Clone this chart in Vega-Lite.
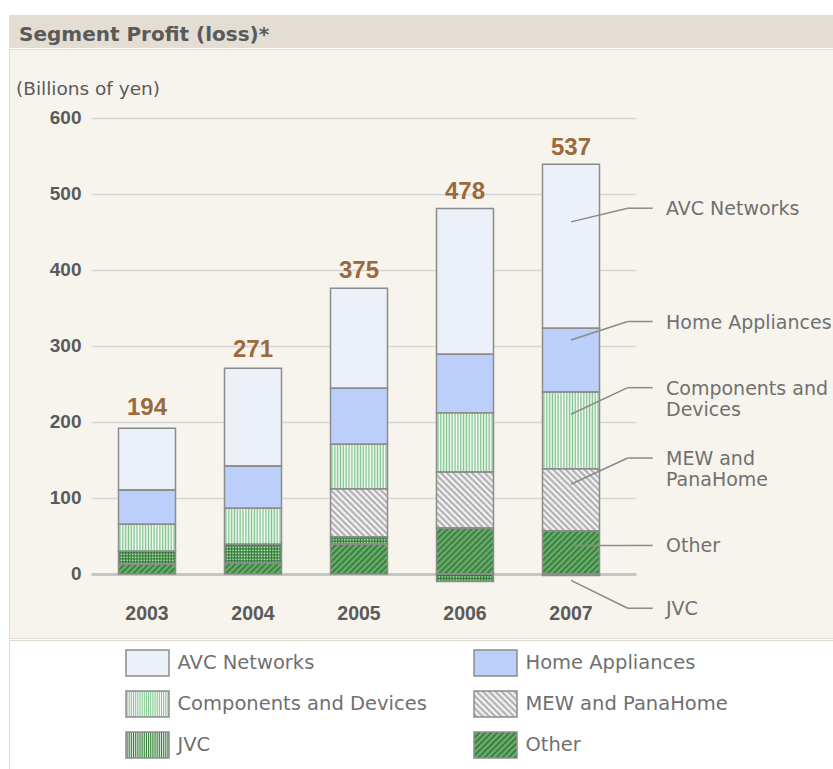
{
  "$schema": "https://vega.github.io/schema/vega-lite/v6.json",
  "background": "#ffffff",
  "padding": {"left": 8, "top": 15, "right": 0, "bottom": 0},
  "spacing": 0,
  "config": {"view": {"stroke": null}},
  "params": [
    {"name": "cdStops", "value": [{"offset":0,"color":"#ffffff"},{"offset":0.025,"color":"#7fc48b"},{"offset":0.05,"color":"#ffffff"},{"offset":0.075,"color":"#7fc48b"},{"offset":0.1,"color":"#ffffff"},{"offset":0.125,"color":"#7fc48b"},{"offset":0.15,"color":"#ffffff"},{"offset":0.175,"color":"#7fc48b"},{"offset":0.2,"color":"#ffffff"},{"offset":0.225,"color":"#7fc48b"},{"offset":0.25,"color":"#ffffff"},{"offset":0.275,"color":"#7fc48b"},{"offset":0.3,"color":"#ffffff"},{"offset":0.325,"color":"#7fc48b"},{"offset":0.35,"color":"#ffffff"},{"offset":0.375,"color":"#7fc48b"},{"offset":0.4,"color":"#ffffff"},{"offset":0.425,"color":"#7fc48b"},{"offset":0.45,"color":"#ffffff"},{"offset":0.475,"color":"#7fc48b"},{"offset":0.5,"color":"#ffffff"},{"offset":0.525,"color":"#7fc48b"},{"offset":0.55,"color":"#ffffff"},{"offset":0.575,"color":"#7fc48b"},{"offset":0.6,"color":"#ffffff"},{"offset":0.625,"color":"#7fc48b"},{"offset":0.65,"color":"#ffffff"},{"offset":0.675,"color":"#7fc48b"},{"offset":0.7,"color":"#ffffff"},{"offset":0.725,"color":"#7fc48b"},{"offset":0.75,"color":"#ffffff"},{"offset":0.775,"color":"#7fc48b"},{"offset":0.8,"color":"#ffffff"},{"offset":0.825,"color":"#7fc48b"},{"offset":0.85,"color":"#ffffff"},{"offset":0.875,"color":"#7fc48b"},{"offset":0.9,"color":"#ffffff"},{"offset":0.925,"color":"#7fc48b"},{"offset":0.95,"color":"#ffffff"},{"offset":0.975,"color":"#7fc48b"},{"offset":1,"color":"#ffffff"}]},
    {"name": "jvcStops", "value": [{"offset":0,"color":"#e6f2e6"},{"offset":0.025,"color":"#2e7d32"},{"offset":0.05,"color":"#e6f2e6"},{"offset":0.075,"color":"#2e7d32"},{"offset":0.1,"color":"#e6f2e6"},{"offset":0.125,"color":"#2e7d32"},{"offset":0.15,"color":"#e6f2e6"},{"offset":0.175,"color":"#2e7d32"},{"offset":0.2,"color":"#e6f2e6"},{"offset":0.225,"color":"#2e7d32"},{"offset":0.25,"color":"#e6f2e6"},{"offset":0.275,"color":"#2e7d32"},{"offset":0.3,"color":"#e6f2e6"},{"offset":0.325,"color":"#2e7d32"},{"offset":0.35,"color":"#e6f2e6"},{"offset":0.375,"color":"#2e7d32"},{"offset":0.4,"color":"#e6f2e6"},{"offset":0.425,"color":"#2e7d32"},{"offset":0.45,"color":"#e6f2e6"},{"offset":0.475,"color":"#2e7d32"},{"offset":0.5,"color":"#e6f2e6"},{"offset":0.525,"color":"#2e7d32"},{"offset":0.55,"color":"#e6f2e6"},{"offset":0.575,"color":"#2e7d32"},{"offset":0.6,"color":"#e6f2e6"},{"offset":0.625,"color":"#2e7d32"},{"offset":0.65,"color":"#e6f2e6"},{"offset":0.675,"color":"#2e7d32"},{"offset":0.7,"color":"#e6f2e6"},{"offset":0.725,"color":"#2e7d32"},{"offset":0.75,"color":"#e6f2e6"},{"offset":0.775,"color":"#2e7d32"},{"offset":0.8,"color":"#e6f2e6"},{"offset":0.825,"color":"#2e7d32"},{"offset":0.85,"color":"#e6f2e6"},{"offset":0.875,"color":"#2e7d32"},{"offset":0.9,"color":"#e6f2e6"},{"offset":0.925,"color":"#2e7d32"},{"offset":0.95,"color":"#e6f2e6"},{"offset":0.975,"color":"#2e7d32"},{"offset":1,"color":"#e6f2e6"}]},
    {"name": "jvcHStops", "value": [{"offset":0,"color":"rgba(46,125,50,0)"},{"offset":0.025,"color":"#2e7d32"},{"offset":0.05,"color":"rgba(46,125,50,0)"},{"offset":0.075,"color":"#2e7d32"},{"offset":0.1,"color":"rgba(46,125,50,0)"},{"offset":0.125,"color":"#2e7d32"},{"offset":0.15,"color":"rgba(46,125,50,0)"},{"offset":0.175,"color":"#2e7d32"},{"offset":0.2,"color":"rgba(46,125,50,0)"},{"offset":0.225,"color":"#2e7d32"},{"offset":0.25,"color":"rgba(46,125,50,0)"},{"offset":0.275,"color":"#2e7d32"},{"offset":0.3,"color":"rgba(46,125,50,0)"},{"offset":0.325,"color":"#2e7d32"},{"offset":0.35,"color":"rgba(46,125,50,0)"},{"offset":0.375,"color":"#2e7d32"},{"offset":0.4,"color":"rgba(46,125,50,0)"},{"offset":0.425,"color":"#2e7d32"},{"offset":0.45,"color":"rgba(46,125,50,0)"},{"offset":0.475,"color":"#2e7d32"},{"offset":0.5,"color":"rgba(46,125,50,0)"},{"offset":0.525,"color":"#2e7d32"},{"offset":0.55,"color":"rgba(46,125,50,0)"},{"offset":0.575,"color":"#2e7d32"},{"offset":0.6,"color":"rgba(46,125,50,0)"},{"offset":0.625,"color":"#2e7d32"},{"offset":0.65,"color":"rgba(46,125,50,0)"},{"offset":0.675,"color":"#2e7d32"},{"offset":0.7,"color":"rgba(46,125,50,0)"},{"offset":0.725,"color":"#2e7d32"},{"offset":0.75,"color":"rgba(46,125,50,0)"},{"offset":0.775,"color":"#2e7d32"},{"offset":0.8,"color":"rgba(46,125,50,0)"},{"offset":0.825,"color":"#2e7d32"},{"offset":0.85,"color":"rgba(46,125,50,0)"},{"offset":0.875,"color":"#2e7d32"},{"offset":0.9,"color":"rgba(46,125,50,0)"},{"offset":0.925,"color":"#2e7d32"},{"offset":0.95,"color":"rgba(46,125,50,0)"},{"offset":0.975,"color":"#2e7d32"},{"offset":1,"color":"rgba(46,125,50,0)"}]},
    {"name": "mewStops", "value": [{"offset":0,"color":"#ffffff"},{"offset":0.025,"color":"#a6a6a6"},{"offset":0.05,"color":"#ffffff"},{"offset":0.075,"color":"#a6a6a6"},{"offset":0.1,"color":"#ffffff"},{"offset":0.125,"color":"#a6a6a6"},{"offset":0.15,"color":"#ffffff"},{"offset":0.175,"color":"#a6a6a6"},{"offset":0.2,"color":"#ffffff"},{"offset":0.225,"color":"#a6a6a6"},{"offset":0.25,"color":"#ffffff"},{"offset":0.275,"color":"#a6a6a6"},{"offset":0.3,"color":"#ffffff"},{"offset":0.325,"color":"#a6a6a6"},{"offset":0.35,"color":"#ffffff"},{"offset":0.375,"color":"#a6a6a6"},{"offset":0.4,"color":"#ffffff"},{"offset":0.425,"color":"#a6a6a6"},{"offset":0.45,"color":"#ffffff"},{"offset":0.475,"color":"#a6a6a6"},{"offset":0.5,"color":"#ffffff"},{"offset":0.525,"color":"#a6a6a6"},{"offset":0.55,"color":"#ffffff"},{"offset":0.575,"color":"#a6a6a6"},{"offset":0.6,"color":"#ffffff"},{"offset":0.625,"color":"#a6a6a6"},{"offset":0.65,"color":"#ffffff"},{"offset":0.675,"color":"#a6a6a6"},{"offset":0.7,"color":"#ffffff"},{"offset":0.725,"color":"#a6a6a6"},{"offset":0.75,"color":"#ffffff"},{"offset":0.775,"color":"#a6a6a6"},{"offset":0.8,"color":"#ffffff"},{"offset":0.825,"color":"#a6a6a6"},{"offset":0.85,"color":"#ffffff"},{"offset":0.875,"color":"#a6a6a6"},{"offset":0.9,"color":"#ffffff"},{"offset":0.925,"color":"#a6a6a6"},{"offset":0.95,"color":"#ffffff"},{"offset":0.975,"color":"#a6a6a6"},{"offset":1,"color":"#ffffff"}]},
    {"name": "otherStops", "value": [{"offset":0,"color":"#2e7d32"},{"offset":0.025,"color":"#7ab27c"},{"offset":0.05,"color":"#2e7d32"},{"offset":0.075,"color":"#7ab27c"},{"offset":0.1,"color":"#2e7d32"},{"offset":0.125,"color":"#7ab27c"},{"offset":0.15,"color":"#2e7d32"},{"offset":0.175,"color":"#7ab27c"},{"offset":0.2,"color":"#2e7d32"},{"offset":0.225,"color":"#7ab27c"},{"offset":0.25,"color":"#2e7d32"},{"offset":0.275,"color":"#7ab27c"},{"offset":0.3,"color":"#2e7d32"},{"offset":0.325,"color":"#7ab27c"},{"offset":0.35,"color":"#2e7d32"},{"offset":0.375,"color":"#7ab27c"},{"offset":0.4,"color":"#2e7d32"},{"offset":0.425,"color":"#7ab27c"},{"offset":0.45,"color":"#2e7d32"},{"offset":0.475,"color":"#7ab27c"},{"offset":0.5,"color":"#2e7d32"},{"offset":0.525,"color":"#7ab27c"},{"offset":0.55,"color":"#2e7d32"},{"offset":0.575,"color":"#7ab27c"},{"offset":0.6,"color":"#2e7d32"},{"offset":0.625,"color":"#7ab27c"},{"offset":0.65,"color":"#2e7d32"},{"offset":0.675,"color":"#7ab27c"},{"offset":0.7,"color":"#2e7d32"},{"offset":0.725,"color":"#7ab27c"},{"offset":0.75,"color":"#2e7d32"},{"offset":0.775,"color":"#7ab27c"},{"offset":0.8,"color":"#2e7d32"},{"offset":0.825,"color":"#7ab27c"},{"offset":0.85,"color":"#2e7d32"},{"offset":0.875,"color":"#7ab27c"},{"offset":0.9,"color":"#2e7d32"},{"offset":0.925,"color":"#7ab27c"},{"offset":0.95,"color":"#2e7d32"},{"offset":0.975,"color":"#7ab27c"},{"offset":1,"color":"#2e7d32"}]}
  ],
  "datasets": {
    "seg": [
      {"year": "2003", "segment": "Other", "value": 12.8},
      {"year": "2003", "segment": "JVC", "value": 17.0},
      {"year": "2003", "segment": "Components and Devices", "value": 35.6},
      {"year": "2003", "segment": "Home Appliances", "value": 45.1},
      {"year": "2003", "segment": "AVC Networks", "value": 81.1},
      {"year": "2004", "segment": "Other", "value": 14.5},
      {"year": "2004", "segment": "JVC", "value": 24.5},
      {"year": "2004", "segment": "Components and Devices", "value": 47.4},
      {"year": "2004", "segment": "Home Appliances", "value": 55.6},
      {"year": "2004", "segment": "AVC Networks", "value": 128.5},
      {"year": "2005", "segment": "Other", "value": 39.0},
      {"year": "2005", "segment": "JVC", "value": 10.0},
      {"year": "2005", "segment": "MEW and PanaHome", "value": 63.2},
      {"year": "2005", "segment": "Components and Devices", "value": 58.3},
      {"year": "2005", "segment": "Home Appliances", "value": 73.7},
      {"year": "2005", "segment": "AVC Networks", "value": 131.5},
      {"year": "2006", "segment": "Other", "value": 60.5},
      {"year": "2006", "segment": "JVC", "value": -10.0},
      {"year": "2006", "segment": "MEW and PanaHome", "value": 73.5},
      {"year": "2006", "segment": "Components and Devices", "value": 78.0},
      {"year": "2006", "segment": "Home Appliances", "value": 77.0},
      {"year": "2006", "segment": "AVC Networks", "value": 191.5},
      {"year": "2007", "segment": "Other", "value": 57.0},
      {"year": "2007", "segment": "JVC", "value": -2.0},
      {"year": "2007", "segment": "MEW and PanaHome", "value": 81.5},
      {"year": "2007", "segment": "Components and Devices", "value": 100.8},
      {"year": "2007", "segment": "Home Appliances", "value": 83.7},
      {"year": "2007", "segment": "AVC Networks", "value": 215.7}
    ],
    "totals": [
      {"year": "2003", "total": 194},
      {"year": "2004", "total": 271},
      {"year": "2005", "total": 375},
      {"year": "2006", "total": 478},
      {"year": "2007", "total": 537}
    ],
    "notes": [
      {"label": "AVC Networks", "start": 463, "at": 481},
      {"label": "Home Appliances", "start": 307.7, "at": 332},
      {"label": "Components and\nDevices", "start": 210, "at": 245},
      {"label": "MEW and\nPanaHome", "start": 118, "at": 152.5},
      {"label": "Other", "start": 37.5, "at": 37.5},
      {"label": "JVC", "start": -8.3, "at": -45}
    ]
  },
  "vconcat": [
    {
      "width": 825,
      "height": 33,
      "view": {"fill": "#e4ddd4", "stroke": null},
      "title": {"text": "Segment Profit (loss)*", "anchor": "start", "frame": "group", "orient": "top", "offset": -45.7, "baseline": "alphabetic", "dx": 10, "font": "DejaVu Sans", "fontSize": 20, "fontWeight": "bold", "color": "#5a5a5a"},
      "data": {"name": "totals"},
      "mark": {"type": "text", "opacity": 0},
      "encoding": {}
    },
    {
      "width": 825,
      "height": 589,
      "view": {"fill": "#f7f4ee", "stroke": "#e2dacf"},
      "title": {"text": "(Billions of yen)", "anchor": "start", "frame": "group", "orient": "top", "offset": -64, "baseline": "alphabetic", "dx": 7, "font": "DejaVu Sans", "fontSize": 18.5, "fontWeight": "normal", "color": "#5a5a5a"},
      "data": {"name": "seg"},
      "transform": [{"stack": "value", "groupby": ["year"], "as": ["y0", "y1"]}],
      "layer": [
        {
          "mark": {"type": "bar", "strokeWidth": 0, "fill": {"expr": "datum.segment === 'AVC Networks' ? '#ebf0f9' : datum.segment === 'Home Appliances' ? '#bccefa' : datum.segment === 'Components and Devices' ? {gradient: 'linear', x1: 0, y1: 0, x2: 1, y2: 0, stops: cdStops} : datum.segment === 'JVC' ? {gradient: 'linear', x1: 0, y1: 0, x2: 1, y2: 0, stops: jvcStops} : datum.segment === 'MEW and PanaHome' ? {gradient: 'linear', x1: 0, y1: 1, x2: 125 * 57 / (3249 + pow(abs(datum.y1 - datum.y0) * 0.7605, 2)), y2: 1 - 125 * abs(datum.y1 - datum.y0) * 0.7605 / (3249 + pow(abs(datum.y1 - datum.y0) * 0.7605, 2)), stops: mewStops} : {gradient: 'linear', x1: 0, y1: 0, x2: 120 * 57 / (3249 + pow(abs(datum.y1 - datum.y0) * 0.7605, 2)), y2: 120 * abs(datum.y1 - datum.y0) * 0.7605 / (3249 + pow(abs(datum.y1 - datum.y0) * 0.7605, 2)), stops: otherStops}"}},
          "encoding": {
            "x": {"field": "year", "type": "ordinal", "scale": {"type": "band", "domain": ["2003", "2004", "2005", "2006", "2007"], "range": [109.5, 590.5], "paddingInner": 0.4623, "paddingOuter": 0},
              "axis": {"orient": "bottom", "offset": -37, "domain": false, "ticks": false, "labelPadding": 3, "labelAngle": 0, "labelFont": "Liberation Sans", "labelFontWeight": "bold", "labelFontSize": 19.5, "labelColor": "#5a5a5a", "title": null, "zindex": 0}},
            "y": {"field": "y0", "type": "quantitative", "scale": {"domain": [-84.16, 690.34], "nice": false, "zero": false},
              "axis": {"orient": "left", "offset": -82, "values": [0, 100, 200, 300, 400, 500, 600], "grid": false, "domain": false, "tickSize": -545, "tickColor": {"condition": {"test": "datum.value === 0", "value": "#c6c6c6"}, "value": "#d6d6d6"}, "tickWidth": {"condition": {"test": "datum.value === 0", "value": 3}, "value": 1.5}, "labelPadding": 555, "labelFont": "Liberation Sans", "labelFontWeight": "bold", "labelFontSize": 19, "labelColor": "#5a5a5a", "title": null, "zindex": 0}},
            "y2": {"field": "y1"}
          }
        },
        {
          "transform": [{"filter": "datum.segment === 'JVC'"}],
          "mark": {"type": "bar", "strokeWidth": 0, "fill": {"expr": "{gradient: 'linear', x1: 0, y1: 0, x2: 0, y2: 60 / max(0.5, abs(datum.y1 - datum.y0) * 0.7605), stops: jvcHStops}"}},
          "encoding": {
            "x": {"field": "year", "type": "ordinal"},
            "y": {"field": "y0", "type": "quantitative"},
            "y2": {"field": "y1"}
          }
        },
        {
          "mark": {"type": "bar", "fill": "transparent", "stroke": "#8c8c8c", "strokeWidth": 1.5},
          "encoding": {
            "x": {"field": "year", "type": "ordinal"},
            "y": {"field": "y0", "type": "quantitative"},
            "y2": {"field": "y1"}
          }
        },
        {
          "data": {"name": "totals"},
          "mark": {"type": "text", "font": "Liberation Sans", "fontWeight": "bold", "fontSize": 24, "fill": "#9a6a3c", "baseline": "middle", "dy": -18},
          "encoding": {
            "x": {"field": "year", "type": "ordinal"},
            "y": {"field": "total", "type": "quantitative"},
            "text": {"field": "total", "type": "quantitative"}
          }
        },
        {
          "data": {"name": "notes"},
          "mark": {"type": "rule", "x2Offset": 56.7, "color": "#8a8a8a", "strokeWidth": 1.5},
          "encoding": {
            "x": {"datum": "2007", "type": "ordinal"},
            "x2": {"datum": "2007"},
            "y": {"field": "start", "type": "quantitative"},
            "y2": {"field": "at"}
          }
        },
        {
          "data": {"name": "notes"},
          "mark": {"type": "rule", "xOffset": 56.7, "x2Offset": 81.7, "color": "#8a8a8a", "strokeWidth": 1.5},
          "encoding": {
            "x": {"datum": "2007", "type": "ordinal"},
            "x2": {"datum": "2007"},
            "y": {"field": "at", "type": "quantitative"}
          }
        },
        {
          "data": {"name": "notes"},
          "mark": {"type": "text", "align": "left", "baseline": "middle", "dx": 95, "dy": 1, "lineBreak": "\n", "lineHeight": 21, "font": "DejaVu Sans", "fontSize": 19, "fill": "#707070"},
          "encoding": {
            "x": {"datum": "2007", "type": "ordinal"},
            "y": {"field": "at", "type": "quantitative"},
            "text": {"field": "label", "type": "nominal"}
          }
        }
      ]
    },
    {
      "width": 825,
      "height": 140,
      "view": {"fill": "#ffffff", "stroke": "#e2dacf"},
      "data": {"name": "seg"},
      "mark": {"type": "point", "filled": true, "opacity": 0, "stroke": "#8c8c8c", "strokeWidth": 1.5,
        "fill": {"expr": "(datum.segment || datum.value) === 'AVC Networks' ? '#ebf0f9' : (datum.segment || datum.value) === 'Home Appliances' ? '#bccefa' : (datum.segment || datum.value) === 'Components and Devices' ? {gradient: 'linear', x1: 0, y1: 0, x2: 1, y2: 0, stops: cdStops} : (datum.segment || datum.value) === 'JVC' ? {gradient: 'linear', x1: 0, y1: 0, x2: 1, y2: 0, stops: jvcStops} : (datum.segment || datum.value) === 'MEW and PanaHome' ? {gradient: 'linear', x1: 0, y1: 1, x2: 2.129, y2: -0.287, stops: mewStops} : {gradient: 'linear', x1: 0, y1: 0, x2: 2.043, y2: 1.236, stops: otherStops}"}},
      "encoding": {
        "shape": {
          "field": "segment", "type": "nominal",
          "scale": {"domain": ["AVC Networks", "Components and Devices", "JVC", "Home Appliances", "MEW and PanaHome", "Other"], "range": ["M-1.654,-1H1.654V1H-1.654Z", "M-1.654,-1H1.654V1H-1.654Z", "M-1.654,-1H1.654V1H-1.654Z", "M-1.654,-1H1.654V1H-1.654Z", "M-1.654,-1H1.654V1H-1.654Z", "M-1.654,-1H1.654V1H-1.654Z"]},
          "legend": {
            "orient": "none", "legendX": 116, "legendY": 634, "columns": 2, "title": null,
            "symbolSize": 676, "symbolOffset": 8.5, "symbolStrokeWidth": 1.5,
            "labelFont": "DejaVu Sans", "labelFontSize": 19.5, "labelColor": "#707070", "labelOffset": 16, "labelLimit": 400,
            "rowPadding": 9, "columnPadding": 43, "padding": 0
          }
        }
      }
    }
  ]
}
